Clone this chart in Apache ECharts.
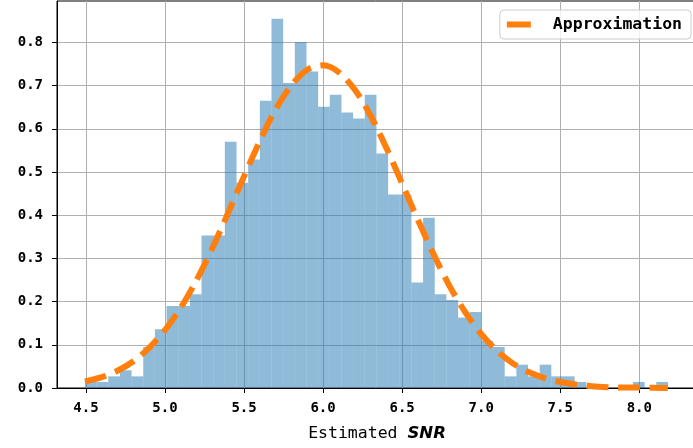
<!DOCTYPE html>
<html>
<head>
<meta charset="utf-8">
<script src="https://cdn.jsdelivr.net/npm/echarts@6/dist/echarts.min.js"></script>
<style>
html,body{margin:0;padding:0;background:#fff;}
#chart{width:693px;height:448px;}
</style>
</head>
<body>
<div id="chart"></div>
<script>
// Histogram: bins start + width, density heights
const binStart = 4.4937;
const binWidth = 0.07375;
const density = [
  0.014,0.014,0.027,0.041,0.027,0.095,0.136,0.190,0.190,0.217,
  0.353,0.353,0.570,0.475,0.529,0.665,0.855,0.706,0.801,0.733,
  0.651,0.679,0.638,0.624,0.679,0.543,0.448,0.448,0.244,0.394,
  0.217,0.204,0.163,0.176,0.109,0.095,0.027,0.054,0.027,0.054,
  0.027,0.027,0.014,0,0,0,0,0.014,0,0.014
];
// Approximation curve
const curveX = [4.494,4.6,4.7,4.8,4.9,5.0,5.1,5.2,5.3,5.4,5.5,5.6,5.7,5.8,5.9,6.0,6.1,6.2,6.3,6.4,6.5,6.6,6.7,6.8,6.9,7.0,7.1,7.2,7.3,7.4,7.5,7.6,7.7,7.8,7.9,8.0,8.1,8.18];
const curveY = [0.015,0.025,0.040,0.062,0.093,0.134,0.186,0.250,0.324,0.406,0.490,0.572,0.645,0.701,0.737,0.747,0.731,0.691,0.631,0.556,0.473,0.389,0.309,0.236,0.175,0.125,0.086,0.057,0.037,0.023,0.014,0.008,0.004,0.002,0.001,0.001,0.0003,0.0001];
// Tick values
const xTicks = [4.5,5.0,5.5,6.0,6.5,7.0,7.5,8.0];
const yTicks = [0.0,0.1,0.2,0.3,0.4,0.5,0.6,0.7,0.8];
const seriesName = 'Approximation';

const histData = density.map((h, i) => [binStart + i*binWidth, binStart + (i+1)*binWidth, h]);
const lineData = curveX.map((x, i) => [x, curveY[i]]);

const mono = 'DejaVu Sans Mono';
const chart = echarts.init(document.getElementById('chart'), null, {renderer: 'canvas'});
chart.setOption({
  animation: false,
  backgroundColor: '#fff',
  grid: {left: 57, top: 1, width: 640, height: 387, show: true, borderColor: '#000', borderWidth: 1,
         backgroundColor: 'transparent', containLabel: false, outerBoundsMode: 'none'},
  legend: {
    right: 2, top: 10,
    backgroundColor: 'rgba(255,255,255,0.8)',
    borderColor: '#cccccc', borderWidth: 1, borderRadius: 4,
    padding: [6, 9, 6, 7],
    itemWidth: 24, itemHeight: 6,
    itemStyle: {color: '#ff7f0e', borderWidth: 0},
    data: [{name: seriesName, icon: 'rect'}],
    textStyle: {fontFamily: mono, fontWeight: 'bold', fontSize: 16.5, color: '#000', padding: [0,0,0,17]}
  },
  xAxis: {
    type: 'value', min: 4.317, max: 8.365,
    name: '{a|Estimated }{b|SNR}',
    nameLocation: 'middle', nameGap: 37,
    nameTextStyle: {rich: {
      a: {fontFamily: mono, fontSize: 16.5, color: '#000'},
      b: {fontFamily: 'DejaVu Sans', fontWeight: 'bold', fontStyle: 'italic', fontSize: 16.5, color: '#000'}
    }},
    axisLine: {show: true, lineStyle: {color: '#000', width: 1}},
    axisTick: {show: true, inside: false, length: 5, lineStyle: {color: '#000', width: 1}, customValues: xTicks},
    axisLabel: {customValues: xTicks, formatter: v => v.toFixed(1), fontFamily: mono, fontWeight: 'bold', fontSize: 14, color: '#000', margin: 13},
    splitLine: {show: true, lineStyle: {color: '#b0b0b0', width: 1}}
  },
  yAxis: {
    type: 'value', min: 0, max: 0.896,
    axisLine: {show: true, lineStyle: {color: '#000', width: 1}},
    axisTick: {show: true, inside: false, length: 5, lineStyle: {color: '#000', width: 1}, customValues: yTicks},
    axisLabel: {customValues: yTicks, formatter: v => v.toFixed(1), fontFamily: mono, fontWeight: 'bold', fontSize: 14, color: '#000', margin: 14},
    splitLine: {show: true, lineStyle: {color: '#b0b0b0', width: 1}}
  },
  series: [
    {
      type: 'custom', name: 'hist', silent: true,
      data: histData,
      encode: {x: [0, 1], y: 2},
      renderItem: function (params, api) {
        const p0 = api.coord([api.value(0), 0]);
        const p1 = api.coord([api.value(1), api.value(2)]);
        return {
          type: 'rect',
          shape: {x: p0[0], y: p1[1], width: p1[0] - p0[0], height: p0[1] - p1[1]},
          style: {fill: 'rgba(31,119,180,0.5)', stroke: null}
        };
      },
      z: 1
    },
    {
      type: 'line', name: seriesName, data: lineData,
      showSymbol: false, symbol: 'none', smooth: 0.3,
      lineStyle: {color: '#ff7f0e', width: 6, type: [22, 9.5], cap: 'butt'},
      itemStyle: {color: '#ff7f0e'},
      z: 3
    }
  ]
});
</script>
</body>
</html>
